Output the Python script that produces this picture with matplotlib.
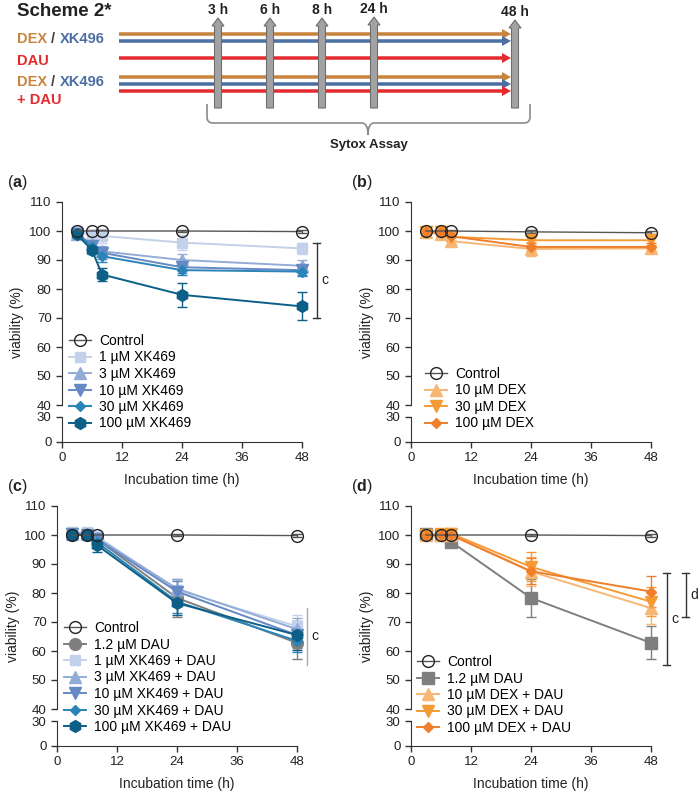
import matplotlib
matplotlib.use("Agg")
import matplotlib.pyplot as plt
from matplotlib.path import Path
from matplotlib.patches import PathPatch

plt.rcParams['font.family'] = 'Liberation Sans'
plt.rcParams['mathtext.fontset'] = 'custom'
plt.rcParams['mathtext.rm'] = 'Liberation Sans'
plt.rcParams['mathtext.bf'] = 'Liberation Sans:bold'
plt.rcParams['axes.edgecolor'] = '#333333'
plt.rcParams['xtick.color'] = '#333333'
plt.rcParams['ytick.color'] = '#333333'
plt.rcParams['xtick.labelcolor'] = '#222222'
plt.rcParams['ytick.labelcolor'] = '#222222'

# ---- data ----
time_h = [3, 6, 8, 24, 48]
scheme_times = ['3 h', '6 h', '8 h', '24 h', '48 h']

# (a) XK469 alone
ctrl_a = [100.0, 100.0, 100.0, 100.0, 99.8]
ctrl_a_err = [0.5, 0.5, 0.5, 0.5, 0.5]
xk1_a = [100.0, 98.5, 98.3, 96.0, 94.0]
xk1_a_err = [1.5, 2.0, 2.5, 2.5, 2.0]
xk3_a = [99.0, 95.5, 93.0, 90.0, 88.0]
xk3_a_err = [1.5, 1.5, 2.0, 2.0, 2.0]
xk10_a = [99.0, 95.0, 92.5, 87.5, 86.5]
xk10_a_err = [1.5, 2.0, 2.0, 2.0, 1.5]
xk30_a = [99.0, 94.5, 91.3, 86.5, 86.0]
xk30_a_err = [1.5, 1.5, 2.0, 1.5, 1.5]
xk100_a = [98.8, 93.4, 85.0, 78.0, 74.0]
xk100_a_err = [1.0, 1.5, 2.3, 4.2, 4.8]

# (b) DEX alone
ctrl_b = [100.0, 100.0, 100.0, 99.7, 99.4]
ctrl_b_err = [0.5, 0.5, 0.5, 0.5, 0.5]
dex10_b = [99.5, 99.0, 96.5, 93.8, 94.0]
dex10_b_err = [1.5, 1.5, 1.0, 2.5, 1.0]
dex30_b = [99.5, 99.5, 98.0, 96.8, 96.8]
dex30_b_err = [1.5, 1.5, 1.5, 1.5, 1.5]
dex100_b = [99.5, 99.8, 98.2, 94.5, 94.5]
dex100_b_err = [1.5, 2.0, 1.5, 1.5, 1.5]

# (c) XK469 + DAU
ctrl_c = [100.0, 100.0, 100.0, 100.0, 99.8]
ctrl_c_err = [0.5, 0.5, 0.5, 0.5, 0.5]
dau_c = [100.2, 100.2, 98.5, 78.3, 62.8]
dau_c_err = [0.8, 1.0, 1.5, 6.5, 5.5]
xk1_c = [101.0, 101.0, 99.5, 81.0, 68.5]
xk1_c_err = [1.0, 1.0, 1.5, 3.5, 4.0]
xk3_c = [100.5, 100.5, 99.0, 81.5, 67.5]
xk3_c_err = [1.0, 1.0, 1.5, 3.5, 4.0]
xk10_c = [100.5, 100.0, 98.5, 80.5, 65.5]
xk10_c_err = [1.0, 1.0, 1.5, 3.5, 4.5]
xk30_c = [100.0, 100.0, 97.5, 77.0, 63.5]
xk30_c_err = [1.0, 1.5, 2.0, 4.0, 4.0]
xk100_c = [100.0, 100.0, 96.5, 76.5, 65.5]
xk100_c_err = [1.0, 1.5, 2.5, 4.0, 5.0]

# (d) DEX + DAU
ctrl_d = [100.0, 100.0, 100.0, 100.0, 99.8]
ctrl_d_err = [0.5, 0.5, 0.5, 0.5, 0.5]
dau_d = [100.2, 100.0, 97.7, 78.3, 62.8]
dau_d_err = [0.8, 1.5, 1.5, 6.5, 5.7]
dex10_d = [100.0, 100.0, 100.0, 87.4, 74.8]
dex10_d_err = [1.0, 1.5, 2.0, 5.0, 5.5]
dex30_d = [100.0, 100.2, 100.5, 89.0, 77.0]
dex30_d_err = [1.0, 1.5, 2.0, 5.0, 5.0]
dex100_d = [99.5, 100.0, 100.0, 87.5, 80.5]
dex100_d_err = [1.0, 1.5, 2.0, 4.5, 5.2]

# significance brackets: (x in h, y top, y bottom, letter)
sig_a = [(51.0, 96.0, 70.0, 'c')]
sig_c = [(50.0, 75.0, 55.2, 'c')]
sig_d = [(51.2, 86.9, 55.2, 'c'), (55.0, 86.9, 71.7, 'd')]

# ---- styles ----
C_CTRL = '#555555'
XK = ['#c3d1ea', '#93acd7', '#6489c4', '#2a84b8', '#0c5f86']
DX = ['#f8b675', '#f59b36', '#ef7f2a']
GRAY = '#7f7f7f'

W, H = 700, 793
fig = plt.figure(figsize=(7, 7.93), dpi=100)


def rect(x0, y_top, x1, y_bot):
    return [x0 / W, 1 - y_bot / H, (x1 - x0) / W, (y_bot - y_top) / H]


# ---------------- scheme ----------------
ax_s = fig.add_axes([0, 1 - 175 / H, 1, 175 / H])
ax_s.set_xlim(0, W)
ax_s.set_ylim(175, 0)
ax_s.axis('off')

ax_s.text(17, 12, 'Scheme 2*', fontsize=13.5, fontweight='bold', color='#222222', va='center')

ORG, BLU, RED = '#c8843f', '#4b6fa3', '#e52a2f'
for y, c in [(34, ORG), (41, BLU), (58, RED), (77, ORG), (84, BLU), (91, RED)]:
    ax_s.arrow(119, y, 392, 0, width=3.5, head_width=10, head_length=9,
               length_includes_head=True, fc=c, ec=c, lw=0)

for y in (39, 82):
    ax_s.text(17, y, 'DEX', color=ORG, fontsize=10.5, fontweight='bold', va='center')
    ax_s.text(51, y, '/', color='#444444', fontsize=10.5, fontweight='bold', va='center')
    ax_s.text(60, y, 'XK496', color=BLU, fontsize=10.5, fontweight='bold', va='center')
ax_s.text(17, 61, 'DAU', color=RED, fontsize=10.5, fontweight='bold', va='center')
ax_s.text(17, 100, '+ DAU', color=RED, fontsize=10.5, fontweight='bold', va='center')

arrow_x = [218, 270, 322, 374, 515]
arrow_tip = [18, 18, 18, 17, 20]
for x, tip, lab in zip(arrow_x, arrow_tip, scheme_times):
    ax_s.arrow(x, 108, 0, tip - 108, width=7, head_width=12, head_length=8,
               length_includes_head=True, fc='#a2a2a2', ec='#6e6e6e', lw=0.8, zorder=5)
    ax_s.text(x, tip - 1, lab, ha='center', va='bottom', fontsize=10, fontweight='bold', color='#222222')

verts = [(207, 104), (207, 117), (207, 123), (213, 123), (362, 123), (368, 123), (368, 135),
         (368, 123), (374, 123), (524, 123), (530, 123), (530, 117), (530, 104)]
codes = [Path.MOVETO, Path.LINETO, Path.CURVE3, Path.CURVE3, Path.LINETO, Path.CURVE3, Path.CURVE3,
         Path.CURVE3, Path.CURVE3, Path.LINETO, Path.CURVE3, Path.CURVE3, Path.LINETO]
ax_s.add_patch(PathPatch(Path(verts, codes), fill=False, ec='#8a8a8a', lw=1.2))
ax_s.text(369, 145, 'Sytox Assay', ha='center', va='center', fontsize=9.5, fontweight='bold', color='#222222')


# ---------------- panels ----------------
def panel(x0, y0, letter, series, leg_xy, sigs, sig_color, sig_caps, ylab_x):
    ax_t = fig.add_axes(rect(x0, y0, x0 + 240, y0 + 203))
    ax_b = fig.add_axes(rect(x0, y0 + 215, x0 + 240, y0 + 240))

    handles = []
    for lab, vals, errs, c, m, ms, open_ in series:
        ax_t.errorbar(time_h, vals, yerr=errs, fmt='none', ecolor=c, elinewidth=1.0,
                      capsize=3.5, capthick=1.0, clip_on=False, zorder=2)
        if open_:
            h, = ax_t.plot(time_h, vals, color=c, lw=1.0, marker=m, ms=ms, mfc='none',
                           mec='#222222', mew=1.0, clip_on=False, zorder=4)
        else:
            h, = ax_t.plot(time_h, vals, color=c, lw=1.4, marker=m, ms=ms, mfc=c,
                           mec=c, clip_on=False, zorder=3)
        handles.append((h, lab))

    for ax in (ax_t, ax_b):
        ax.set_xlim(0, 48)
        ax.spines['top'].set_visible(False)
        ax.spines['right'].set_visible(False)
        ax.tick_params(labelsize=9.5, length=4, width=1)
    ax_t.set_ylim(40, 110)
    ax_t.set_yticks([40, 50, 60, 70, 80, 90, 100, 110])
    ax_t.spines['bottom'].set_visible(False)
    ax_t.set_xticks([])
    ax_t.patch.set_visible(False)
    ax_b.set_ylim(0, 30)
    ax_b.set_yticks([0, 30])
    ax_b.set_xticks([0, 12, 24, 36, 48])
    ax_b.patch.set_visible(False)

    for xs, yt, yb, txt in sigs:
        if sig_caps:
            ax_t.plot([xs - 0.9, xs + 0.6], [yt, yt], color=sig_color, lw=1.0, clip_on=False)
            ax_t.plot([xs - 0.9, xs + 0.6], [yb, yb], color=sig_color, lw=1.0, clip_on=False)
        ax_t.plot([xs, xs], [yb, yt], color=sig_color, lw=1.0, clip_on=False)
        ax_t.text(xs + 1.6, (yt + yb) / 2, txt, fontsize=10, color='#222222',
                  ha='center', va='center', clip_on=False)

    # legend: control first
    order = [handles[-1]] + handles[:-1]
    leg = ax_t.legend([h for h, _ in order], [l for _, l in order], loc='upper left',
                      bbox_to_anchor=(leg_xy[0] / W, 1 - leg_xy[1] / H), bbox_transform=fig.transFigure,
                      frameon=False, fontsize=10, borderpad=0, borderaxespad=0,
                      labelspacing=0.18, handlelength=1.55, handletextpad=0.6)
    leg.set_zorder(10)

    fig.text(ylab_x / W, 1 - (y0 + 120) / H, 'viability (%)', rotation=90,
             ha='center', va='center', fontsize=10, color='#222222')
    fig.text((x0 + 120) / W, 1 - (y0 + 278) / H, 'Incubation time (h)',
             ha='center', va='center', fontsize=10, color='#222222')
    lx = 7 if x0 < 300 else 351
    fig.text(lx / W, 1 - (y0 - 19) / H, '($\\mathbf{%s}$)' % letter,
             ha='left', va='center', fontsize=11.5, color='#222222')


series_a = [
    ('1 µM XK469', xk1_a, xk1_a_err, XK[0], 's', 7.5, False),
    ('3 µM XK469', xk3_a, xk3_a_err, XK[1], '^', 8, False),
    ('10 µM XK469', xk10_a, xk10_a_err, XK[2], 'v', 8, False),
    ('30 µM XK469', xk30_a, xk30_a_err, XK[3], 'D', 5.5, False),
    ('100 µM XK469', xk100_a, xk100_a_err, XK[4], 'h', 8.5, False),
    ('Control', ctrl_a, ctrl_a_err, C_CTRL, 'o', 8.5, True),
]
series_b = [
    ('10 µM DEX', dex10_b, dex10_b_err, DX[0], '^', 8, False),
    ('30 µM DEX', dex30_b, dex30_b_err, DX[1], 'v', 8, False),
    ('100 µM DEX', dex100_b, dex100_b_err, DX[2], 'D', 5.5, False),
    ('Control', ctrl_b, ctrl_b_err, C_CTRL, 'o', 8.5, True),
]
series_c = [
    ('1.2 µM DAU', dau_c, dau_c_err, GRAY, 'o', 8.5, False),
    ('1 µM XK469 + DAU', xk1_c, xk1_c_err, XK[0], 's', 7.5, False),
    ('3 µM XK469 + DAU', xk3_c, xk3_c_err, XK[1], '^', 8, False),
    ('10 µM XK469 + DAU', xk10_c, xk10_c_err, XK[2], 'v', 8, False),
    ('30 µM XK469 + DAU', xk30_c, xk30_c_err, XK[3], 'D', 5.5, False),
    ('100 µM XK469 + DAU', xk100_c, xk100_c_err, XK[4], 'h', 8.5, False),
    ('Control', ctrl_c, ctrl_c_err, C_CTRL, 'o', 8.5, True),
]
series_d = [
    ('1.2 µM DAU', dau_d, dau_d_err, GRAY, 's', 8, False),
    ('10 µM DEX + DAU', dex10_d, dex10_d_err, DX[0], '^', 8, False),
    ('30 µM DEX + DAU', dex30_d, dex30_d_err, DX[1], 'v', 8, False),
    ('100 µM DEX + DAU', dex100_d, dex100_d_err, DX[2], 'D', 5.5, False),
    ('Control', ctrl_d, ctrl_d_err, C_CTRL, 'o', 8.5, True),
]

panel(62, 202, 'a', series_a, (69, 334), sig_a, '#333333', True, 17)
panel(411, 202, 'b', series_b, (425, 367), [], '#333333', True, 367)
panel(57, 506, 'c', series_c, (64, 621), sig_c, '#aaaaaa', False, 13)
panel(411, 506, 'd', series_d, (417, 655), sig_d, '#333333', True, 367)

fig.savefig('out.png', dpi=100)
